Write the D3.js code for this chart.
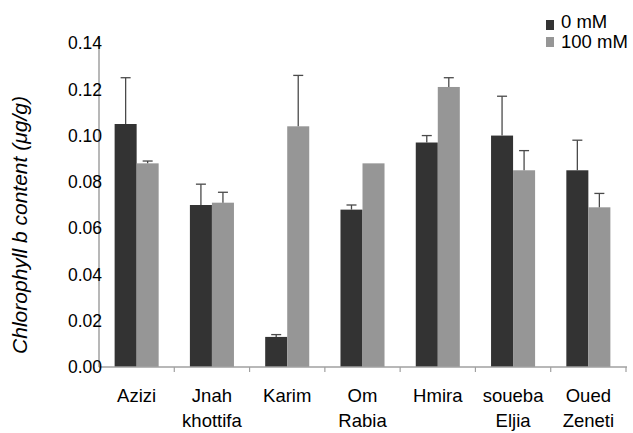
<!DOCTYPE html>
<html>
<head>
<meta charset="utf-8">
<script src="https://cdn.jsdelivr.net/npm/d3@7"></script>
<style>
  body { margin: 0; background: #fff; }
  text { font-family: "Liberation Sans", Arial, sans-serif; fill: #000; }
</style>
</head>
<body>
<div id="visual"></div>
<script>
// cultivars, second line of label kept separate
var categories = ["Azizi", "Jnah", "Karim", "Om", "Hmira", "soueba", "Oued"];
var categories2 = ["", "khottifa", "", "Rabia", "", "Eljia", "Zeneti"];

var series = ["0 mM", "100 mM"];
var values0 = [0.105, 0.070, 0.013, 0.068, 0.097, 0.100, 0.085];
var values100 = [0.088, 0.071, 0.104, 0.088, 0.121, 0.085, 0.069];
var err0 = [0.020, 0.009, 0.001, 0.002, 0.003, 0.017, 0.013];
var err100 = [0.001, 0.0045, 0.022, 0, 0.004, 0.0085, 0.006];

var yTicks = [0, 0.02, 0.04, 0.06, 0.08, 0.10, 0.12, 0.14];

var colors = ["#333333", "#969696"];

var width = 633, height = 433;
var svg = d3.select("#visual").append("svg")
  .attr("width", width)
  .attr("height", height);

var plotLeft = 99, plotRight = 626, plotTop = 43, plotBottom = 367;

var x0 = d3.scaleBand()
  .domain(categories)
  .range([plotLeft, plotRight])
  .paddingInner(0.415)
  .paddingOuter(0.2075);

var x1 = d3.scaleBand()
  .domain(series)
  .range([0, x0.bandwidth()]);

var y = d3.scaleLinear()
  .domain([0, 0.14])
  .range([plotBottom, plotTop]);

var rows = categories.map(function(c, i) {
  return { cat: c, vals: [
    { s: series[0], v: values0[i], e: err0[i], c: colors[0] },
    { s: series[1], v: values100[i], e: err100[i], c: colors[1] }
  ]};
});

// bars
var groups = svg.selectAll(".grp")
  .data(rows)
  .enter()
  .append("g")
  .attr("class", "grp")
  .attr("transform", function(d) { return "translate(" + x0(d.cat) + ",0)"; });

groups.selectAll("rect")
  .data(function(d) { return d.vals; })
  .enter()
  .append("rect")
  .attr("x", function(d) { return x1(d.s); })
  .attr("y", function(d) { return y(d.v); })
  .attr("width", x1.bandwidth())
  .attr("height", function(d) { return plotBottom - y(d.v); })
  .attr("fill", function(d) { return d.c; });

// error bars (upper only)
var errs = groups.selectAll(".err")
  .data(function(d) { return d.vals.filter(function(v) { return v.e > 0; }); })
  .enter()
  .append("g")
  .attr("class", "err")
  .attr("stroke", "#4a4a4a")
  .attr("stroke-width", 1.3);

errs.append("line")
  .attr("x1", function(d) { return x1(d.s) + x1.bandwidth() / 2; })
  .attr("x2", function(d) { return x1(d.s) + x1.bandwidth() / 2; })
  .attr("y1", function(d) { return y(d.v); })
  .attr("y2", function(d) { return y(d.v + d.e); });

errs.append("line")
  .attr("x1", function(d) { return x1(d.s) + x1.bandwidth() / 2 - 5; })
  .attr("x2", function(d) { return x1(d.s) + x1.bandwidth() / 2 + 5; })
  .attr("y1", function(d) { return y(d.v + d.e); })
  .attr("y2", function(d) { return y(d.v + d.e); });

// axes lines
svg.append("line")
  .attr("x1", plotLeft).attr("x2", plotLeft)
  .attr("y1", plotTop - 5).attr("y2", plotBottom)
  .attr("stroke", "#a0a0a0").attr("stroke-width", 1.5);

svg.append("line")
  .attr("x1", plotLeft).attr("x2", plotRight + 1)
  .attr("y1", plotBottom).attr("y2", plotBottom)
  .attr("stroke", "#a0a0a0").attr("stroke-width", 1.5);

// x ticks at category boundaries
svg.selectAll(".xtick")
  .data(categories)
  .enter()
  .append("line")
  .attr("class", "xtick")
  .attr("x1", function(d) { return x0(d) - x0.step() * x0.paddingOuter() + x0.step(); })
  .attr("x2", function(d) { return x0(d) - x0.step() * x0.paddingOuter() + x0.step(); })
  .attr("y1", plotBottom)
  .attr("y2", plotBottom + 5)
  .attr("stroke", "#a0a0a0").attr("stroke-width", 1.2);

// y tick labels
svg.selectAll(".ylab")
  .data(yTicks)
  .enter()
  .append("text")
  .attr("class", "ylab")
  .attr("x", 102)
  .attr("y", function(d) { return y(d); })
  .attr("dy", "0.36em")
  .attr("text-anchor", "end")
  .style("font-size", "17.5px")
  .text(function(d) { return d3.format(".2f")(d); });

// x labels
var xl = svg.selectAll(".xlab")
  .data(categories)
  .enter()
  .append("text")
  .attr("class", "xlab")
  .attr("text-anchor", "middle")
  .style("font-size", "18.5px")
  .attr("transform", function(d) { return "translate(" + (x0(d) + x0.bandwidth() / 2) + ",402)"; });

xl.append("tspan")
  .attr("x", 0)
  .text(function(d) { return d; });

xl.append("tspan")
  .attr("x", 0)
  .attr("dy", 25)
  .text(function(d, i) { return categories2[i]; });

// y title
svg.append("text")
  .attr("transform", "translate(27," + 225 + ") rotate(-90)")
  .attr("text-anchor", "middle")
  .style("font-size", "21px")
  .style("font-style", "italic")
  .text("Chlorophyll b content (\u03bcg/g)");

// legend
svg.selectAll(".legRect")
  .data(series)
  .enter()
  .append("rect")
  .attr("class", "legRect")
  .attr("x", 546)
  .attr("y", function(d, i) { return 20 + i * 17; })
  .attr("width", 8)
  .attr("height", 10)
  .attr("fill", function(d, i) { return colors[i]; });

svg.selectAll(".legText")
  .data(series)
  .enter()
  .append("text")
  .attr("class", "legText")
  .attr("x", 561)
  .attr("y", function(d, i) { return 28 + i * 20; })
  .style("font-size", "18.5px")
  .text(function(d) { return d; });
</script>
</body>
</html>
